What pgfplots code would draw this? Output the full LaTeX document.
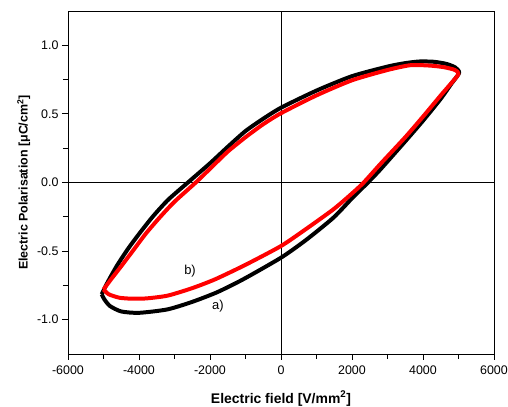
\documentclass[border=0pt]{standalone}
\usepackage{pgfplots}
\pgfplotsset{compat=1.18}
\usepackage{fontspec}
\setmainfont{Liberation Sans}

\pgfplotstableread{
x y
-5050 -0.815
-4900 -0.735
-4628 -0.609
-4300 -0.48
-3972 -0.366
-3600 -0.245
-3175 -0.125
-2600 0.005
-2000 0.14
-1500 0.26
-1000 0.375
-500 0.465
0 0.545
1000 0.67
2000 0.775
3000 0.845
3500 0.87
3900 0.882
4300 0.88
4650 0.865
4900 0.84
5020 0.80
4800 0.72
4500 0.61
4000 0.45
3500 0.30
2800 0.095
2450 0.0
2000 -0.115
1474 -0.257
700 -0.42
0 -0.548
-1061 -0.705
-1800 -0.80
-2500 -0.87
-3200 -0.925
-4000 -0.95
-4500 -0.94
-4820 -0.90
-4980 -0.85
-5050 -0.815
}\loopa

\pgfplotstableread{
x y
-5000 -0.78
-4800 -0.71
-4500 -0.61
-4150 -0.49
-3800 -0.37
-3400 -0.25
-3000 -0.14
-2400 0.0
-2000 0.10
-1500 0.225
-1000 0.33
-500 0.425
0 0.505
1000 0.635
2000 0.745
3000 0.82
3650 0.855
4200 0.852
4600 0.84
4900 0.82
5000 0.79
4750 0.71
4500 0.635
4000 0.48
3500 0.33
2800 0.135
2330 0.0
2000 -0.08
1474 -0.196
700 -0.34
0 -0.463
-1000 -0.60
-1850 -0.705
-2500 -0.77
-3200 -0.825
-3800 -0.845
-4200 -0.847
-4550 -0.84
-4850 -0.815
-5000 -0.78
}\loopb

\begin{document}
\begin{tikzpicture}
\begin{axis}[
    scale only axis,
    width=426bp, height=343bp,
    xmin=-6000, xmax=6000,
    ymin=-1.25, ymax=1.25,
    xtick={-6000,-4000,...,6000},
    ytick={-1,-0.5,0,0.5,1},
    minor x tick num=1,
    minor y tick num=1,
    tick align=outside,
    xtick pos=bottom, ytick pos=left,
    major tick length=6bp, minor tick length=5bp,
    axis line style={line width=0.8pt},
    every tick/.style={black, line width=0.8pt},
    tick label style={font=\fontsize{12.5}{15}\selectfont},
    xticklabel style={yshift=-2bp},
    /pgf/number format/assume math mode=true,
    xticklabel style={/pgf/number format/1000 sep={}},
    yticklabel style={/pgf/number format/.cd, fixed, fixed zerofill, precision=1},
    xlabel={\bfseries Electric field [V/mm\textsuperscript{2}]},
    ylabel={\bfseries Electric Polarisation [μC/cm\textsuperscript{2}]},
    xlabel style={font=\fontsize{14}{16}\selectfont, yshift=-10bp},
    ylabel style={font=\fontsize{12.5}{15}\selectfont},
    clip=true,
]
\draw[line width=0.8pt] (rel axis cs:0.5,0) -- (rel axis cs:0.5,1);
\draw[line width=0.8pt] (rel axis cs:0,0.5) -- (rel axis cs:1,0.5);
\addplot[black, line width=4pt, smooth, tension=0.4, line join=round] table {\loopa};
\addplot[red, line width=4pt, smooth, tension=0.4, line join=round] table {\loopb};
\node[font=\fontsize{13}{15}\selectfont] at (axis cs:-2563,-0.647) {b)};
\node[font=\fontsize{13}{15}\selectfont] at (axis cs:-1775,-0.90) {a)};
\end{axis}
\pgfresetboundingbox
\path[use as bounding box] ([xshift=-68bp,yshift=-53bp]current axis.south west) rectangle ([xshift=14bp,yshift=11bp]current axis.north east);
\end{tikzpicture}
\end{document}
